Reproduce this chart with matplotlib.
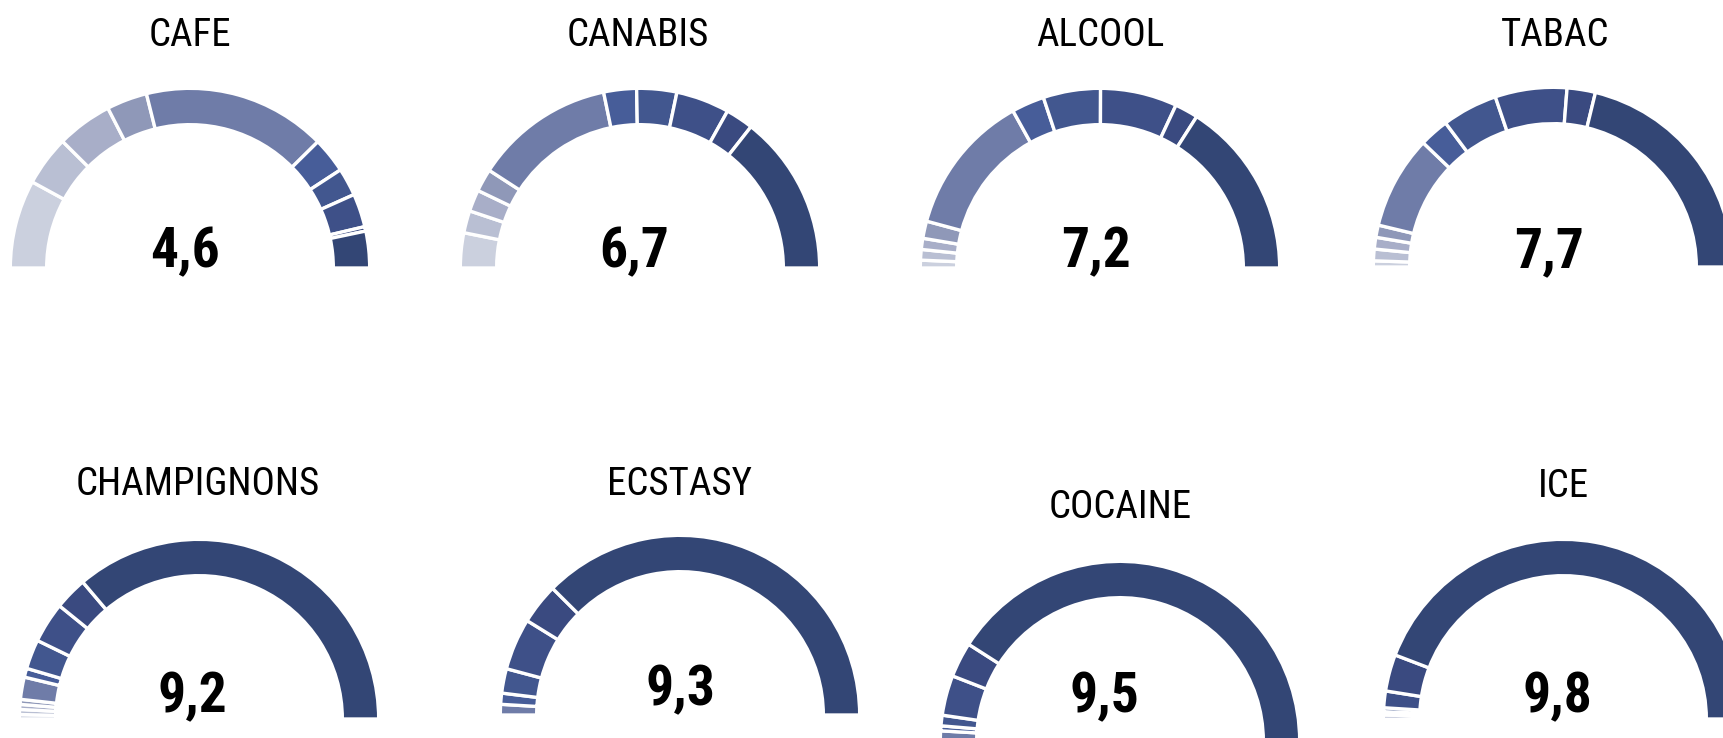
import matplotlib
matplotlib.use("Agg")
import matplotlib.pyplot as plt
from matplotlib.patches import Wedge

# Share of answers (%) for each score 1..10, per substance
drugs = ["CAFE", "CANABIS", "ALCOOL", "TABAC", "CHAMPIGNONS", "ECSTASY", "COCAINE", "ICE"]
mean_scores = [4.6, 6.7, 7.2, 7.7, 9.2, 9.3, 9.5, 9.8]

cafe = [15.9, 9.0, 10.0, 7.3, 33.0, 6.4, 5.0, 6.0, 0.8, 6.6]
canabis = [6.3, 4.0, 3.9, 4.1, 25.2, 5.9, 7.2, 9.6, 5.0, 28.8]
alcool = [1.4, 1.9, 2.0, 3.1, 25.5, 5.9, 10.3, 13.8, 4.2, 31.9]
tabac = [1.1, 2.1, 2.1, 2.2, 16.8, 5.3, 10.0, 12.9, 5.1, 42.4]
champignons = [0.8, 0.9, 0.9, 0.9, 4.0, 1.6, 5.3, 7.3, 5.9, 72.4]
ecstasy = [0.0, 0.0, 0.0, 0.0, 1.9, 2.0, 4.4, 9.3, 7.3, 75.1]
cocaine = [0.0, 0.0, 0.0, 0.0, 1.8, 0.9, 1.9, 7.2, 6.3, 81.9]
ice = [0.0, 0.0, 0.0, 0.0, 0.7, 0.6, 0.7, 3.0, 6.6, 88.4]
shares = [cafe, canabis, alcool, tabac, champignons, ecstasy, cocaine, ice]

score_colors = ["#cbd0de", "#b9bfd3", "#a8aec8", "#8f98b8", "#6f7ca8",
                "#475d99", "#42578f", "#3e5088", "#3a4a80", "#334675"]

W, H = 1724, 738

# layout in pixels from the top-left corner
centers = [(190, 268), (640, 268), (1100, 268), (1553, 267),
           (199, 719), (680, 715), (1120, 741), (1563, 719)]
title_pos = [(190, 46), (638, 46), (1100, 46), (1555, 46),
             (198, 495), (680, 495), (1120, 518), (1563, 497)]
value_pos = [(185, 267), (634, 267), (1096, 267), (1549, 267),
             (192, 712), (680, 705), (1104, 712), (1557, 712)]

sep = 2.4            # white separator width (pt)
sep_px = sep * 100 / 72
radius = 178 + sep_px / 2
ring = 33 + sep_px

font = ["Liberation Sans Narrow", "Roboto Condensed", "DejaVu Sans"]

fig = plt.figure(figsize=(W / 100, H / 100), dpi=100)
ax = fig.add_axes([0, 0, 1, 1])
ax.set_xlim(0, W)
ax.set_ylim(0, H)
ax.axis("off")

for name, mean, vals, (cx, cy), (tx, ty), (vx, vy) in zip(
        drugs, mean_scores, shares, centers, title_pos, value_pos):
    total = sum(vals)
    start = 0.0
    for score, v in enumerate(vals):
        if v <= 0:
            continue
        end = start + v
        ax.add_patch(Wedge((cx, H - cy), radius,
                           180 - 180 * end / total, 180 - 180 * start / total,
                           width=ring, facecolor=score_colors[score],
                           edgecolor="white", linewidth=sep))
        start = end

    ax.text(tx, H - ty, name, ha="center", va="baseline",
            fontsize=28, family=font, color="black")
    ax.text(vx, H - vy, f"{mean:.1f}".replace(".", ","), ha="center",
            va="baseline", fontsize=40, fontweight="bold", family=font,
            color="black")

fig.savefig("out.png", dpi=100, facecolor="white")
